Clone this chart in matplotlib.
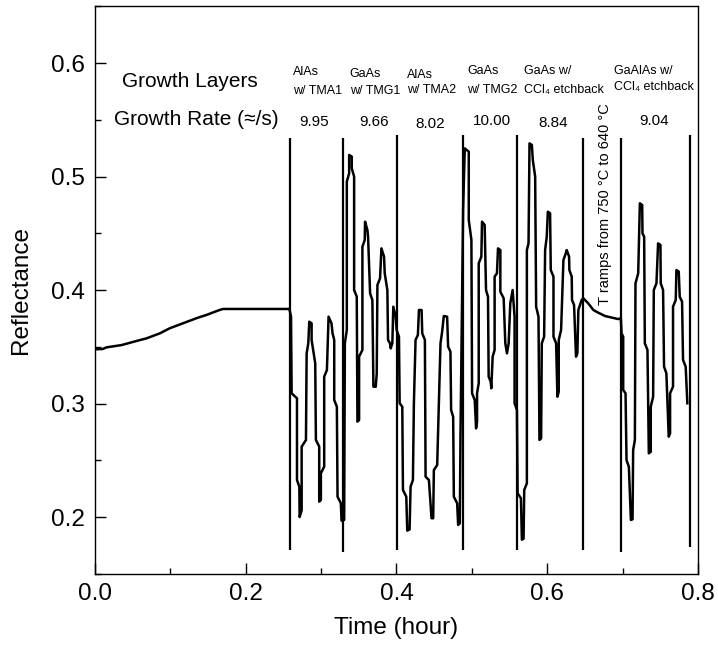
import matplotlib
matplotlib.use('Agg')
import matplotlib.pyplot as plt
from matplotlib.ticker import MultipleLocator

plt.rcParams['font.family'] = ['Liberation Sans', 'DejaVu Sans']

# substrate heat-up before growth
ramp_t = [0.0, 0.0100, 0.0155, 0.0353, 0.0551, 0.0683, 0.086, 0.0992, 0.1168,
          0.1344, 0.1477, 0.1653, 0.1697, 0.2579]
ramp_r = [0.3478, 0.3480, 0.3495, 0.3515, 0.3551, 0.3574, 0.3618, 0.3663, 0.3707,
          0.3751, 0.378, 0.3824, 0.3833, 0.3833]

# reflectance trace during growth
time_h = [0.2579, 0.2601, 0.2609, 0.2680, 0.2680, 0.2711, 0.2715, 0.2742, 0.2742, 0.2799,
          0.2808, 0.2830, 0.2843, 0.2874, 0.2874, 0.2922, 0.2931, 0.2975, 0.2975, 0.2997,
          0.2997, 0.3041, 0.3041, 0.3077, 0.3099, 0.3138, 0.3152, 0.3174, 0.3174, 0.3209,
          0.3218, 0.3262, 0.3271, 0.3306, 0.3315, 0.3341, 0.3341, 0.3372, 0.3372, 0.3407,
          0.3407, 0.3438, 0.3438, 0.3473, 0.3482, 0.3504, 0.3504, 0.3548, 0.3548, 0.3579,
          0.3583, 0.3614, 0.3623, 0.3650, 0.3680, 0.3694, 0.3725, 0.3738, 0.3747, 0.3782,
          0.3800, 0.3835, 0.3844, 0.3879, 0.3888, 0.3914, 0.3923, 0.3945, 0.3958, 0.3989,
          0.4002, 0.4033, 0.4042, 0.4077, 0.4086, 0.4130, 0.4143, 0.4174, 0.4187, 0.4218,
          0.4231, 0.4253, 0.4284, 0.4298, 0.4333, 0.4342, 0.4377, 0.4386, 0.4430, 0.4465,
          0.4487, 0.4496, 0.4540, 0.4584, 0.4606, 0.4628, 0.4672, 0.4685, 0.4716, 0.4725,
          0.4752, 0.4761, 0.4805, 0.4818, 0.4840, 0.4849, 0.4884, 0.4906, 0.4959, 0.4959,
          0.4994, 0.5003, 0.5038, 0.5056, 0.5069, 0.5069, 0.5091, 0.5091, 0.5126, 0.5135,
          0.5170, 0.5188, 0.5214, 0.5223, 0.5250, 0.5258, 0.5276, 0.5302, 0.5302, 0.5333,
          0.5347, 0.5378, 0.5378, 0.5422, 0.5444, 0.5466, 0.5488, 0.5510, 0.5541, 0.5567,
          0.5567, 0.5598, 0.5607, 0.5651, 0.5664, 0.5686, 0.5695, 0.5730, 0.5730, 0.5752,
          0.5765, 0.5796, 0.5809, 0.5840, 0.5853, 0.5884, 0.5897, 0.5919, 0.5928, 0.5959,
          0.5972, 0.5994, 0.6008, 0.6038, 0.6047, 0.6083, 0.6083, 0.6118, 0.6135, 0.6153,
          0.6153, 0.6184, 0.6215, 0.6246, 0.6259, 0.6290, 0.6294, 0.6325, 0.6329, 0.6356,
          0.6382, 0.6400, 0.6413, 0.6457, 0.6479, 0.6545, 0.6612, 0.6678, 0.6766, 0.6942,
          0.6977, 0.6986, 0.7008, 0.7008, 0.7039, 0.7052, 0.7083, 0.7110, 0.7132, 0.7140,
          0.7163, 0.7171, 0.7207, 0.7229, 0.7260, 0.7264, 0.7286, 0.7295, 0.7330, 0.7348,
          0.7374, 0.7374, 0.7405, 0.7414, 0.7449, 0.7471, 0.7502, 0.7506, 0.7537, 0.7550,
          0.7581, 0.7612, 0.7630, 0.7630, 0.7669, 0.7669, 0.7705, 0.7714, 0.7745, 0.7758,
          0.7789, 0.7802, 0.7837, 0.7859]
refl = [0.3833, 0.3765, 0.3090, 0.3046, 0.2326, 0.2267, 0.2000, 0.2060, 0.2620, 0.2678,
        0.3442, 0.3530, 0.3721, 0.3706, 0.3560, 0.3354, 0.2679, 0.2620, 0.2135, 0.2150,
        0.2385, 0.2444, 0.3237, 0.3295, 0.3765, 0.3706, 0.3618, 0.3560, 0.3031, 0.2972,
        0.2179, 0.2121, 0.1968, 0.1974, 0.3530, 0.3648, 0.4955, 0.5028, 0.5190, 0.5175,
        0.5072, 0.4999, 0.4000, 0.3941, 0.2840, 0.2855, 0.3413, 0.3472, 0.4382, 0.4441,
        0.4602, 0.4529, 0.4470, 0.3971, 0.3912, 0.3148, 0.3148, 0.3266, 0.4044, 0.4103,
        0.4367, 0.4294, 0.4147, 0.4000, 0.3560, 0.3530, 0.3486, 0.3530, 0.3853, 0.3765,
        0.3648, 0.3589, 0.3002, 0.2972, 0.2238, 0.2179, 0.1880, 0.1890, 0.2267, 0.2326,
        0.3002, 0.3560, 0.3604, 0.3824, 0.3824, 0.3618, 0.3560, 0.2355, 0.2326, 0.1989,
        0.1989, 0.2414, 0.2458, 0.3530, 0.3633, 0.3771, 0.3765, 0.3501, 0.3457, 0.2943,
        0.2884, 0.2179, 0.2121, 0.1930, 0.1944, 0.2708, 0.4705, 0.5248, 0.5219, 0.4617,
        0.4441, 0.3090, 0.3031, 0.2781, 0.2840, 0.3090, 0.3178, 0.4235, 0.4294, 0.4602,
        0.4573, 0.4000, 0.3941, 0.3237, 0.3192, 0.3134, 0.3413, 0.3472, 0.4118, 0.4147,
        0.4367, 0.4352, 0.3985, 0.3927, 0.3530, 0.3442, 0.3530, 0.3883, 0.4000, 0.3765,
        0.3002, 0.2943, 0.2209, 0.2165, 0.1800, 0.1810, 0.2238, 0.2297, 0.4352, 0.4411,
        0.5292, 0.5278, 0.5145, 0.4999, 0.3853, 0.3765, 0.2679, 0.2693, 0.3530, 0.3589,
        0.4352, 0.4470, 0.4690, 0.4676, 0.4176, 0.4118, 0.3589, 0.3530, 0.3060, 0.3104,
        0.3560, 0.3648, 0.4264, 0.4323, 0.4352, 0.4294, 0.4176, 0.4118, 0.3912, 0.3868,
        0.3413, 0.3442, 0.3824, 0.3912, 0.3927, 0.3882, 0.3824, 0.3800, 0.3771, 0.3744,
        0.3751, 0.3618, 0.3589, 0.3119, 0.3090, 0.2502, 0.2443, 0.1974, 0.1980, 0.2590,
        0.2679, 0.4059, 0.4147, 0.4764, 0.4749, 0.4499, 0.4470, 0.3530, 0.3472, 0.2561,
        0.2575, 0.2972, 0.3060, 0.4000, 0.4059, 0.4411, 0.4397, 0.4059, 0.4000, 0.3325,
        0.3266, 0.2708, 0.2737, 0.3090, 0.3149, 0.3853, 0.3912, 0.4176, 0.4162, 0.3941,
        0.3897, 0.3384, 0.3325, 0.3002]

# layer boundary markers
bound_t = [0.2583, 0.3297, 0.4002, 0.4884, 0.5594, 0.6471, 0.6975, 0.7890]
bound_top = [0.534, 0.534, 0.537, 0.537, 0.537, 0.534, 0.534, 0.537]
bound_bot = [0.171, 0.169, 0.171, 0.171, 0.171, 0.171, 0.169, 0.174]

# annotations
layer_top = ['AlAs', 'GaAs', 'AlAs', 'GaAs', 'GaAs w/', 'GaAlAs w/']
layer_bot = ['w/ TMA1', 'w/ TMG1', 'w/ TMA2', 'w/ TMG2', 'CCl₄ etchback', 'CCl₄ etchback']
layer_x = [0.263, 0.338, 0.414, 0.4936, 0.5686, 0.6889]
layer_y1 = [0.5923, 0.5903, 0.5894, 0.5932, 0.5932, 0.5932]
layer_y2 = [0.5756, 0.5756, 0.5762, 0.5762, 0.5762, 0.5791]
rates = ['9.95', '9.66', '8.02', '10.00', '8.84', '9.04']
rate_x = [0.2909, 0.3702, 0.4452, 0.5267, 0.6083, 0.7414]
rate_y = [0.5483, 0.5483, 0.5463, 0.5492, 0.5469, 0.5492]

fig = plt.figure(figsize=(7.18, 6.47), dpi=100)
ax = fig.add_axes([0.1323, 0.1132, 0.8398, 0.8771])

ax.plot(ramp_t, ramp_r, color='black', lw=1.8)
ax.plot(time_h, refl, color='black', lw=1.8)
ax.vlines(bound_t, bound_bot, bound_top, color='black', lw=1.6)

for i in range(len(layer_top)):
    ax.text(layer_x[i], layer_y1[i], layer_top[i], fontsize=9, ha='left', va='center')
    ax.text(layer_x[i], layer_y2[i], layer_bot[i], fontsize=9, ha='left', va='center')
    ax.text(rate_x[i], rate_y[i], rates[i], fontsize=11, ha='center', va='center')

ax.text(0.0353, 0.5835, 'Growth Layers', fontsize=15, ha='left', va='center')
ax.text(0.0251, 0.5498, 'Growth Rate (≈/s)', fontsize=15, ha='left', va='center')
ax.text(0.6766, 0.3868, 'T ramps from 750 °C to 640 °C', fontsize=10.5,
        rotation=90, ha='center', va='bottom')

ax.set_xlim(0, 0.8)
ax.set_ylim(0.15, 0.65)
ax.xaxis.set_major_locator(MultipleLocator(0.2))
ax.xaxis.set_minor_locator(MultipleLocator(0.1))
ax.yaxis.set_major_locator(MultipleLocator(0.1))
ax.yaxis.set_minor_locator(MultipleLocator(0.05))
ax.tick_params(which='both', direction='in', top=False, right=False, width=1)
ax.tick_params(which='major', length=8, labelsize=17.5, pad=7)
ax.tick_params(which='minor', length=4)
for s in ax.spines.values():
    s.set_linewidth(1)

ax.set_xlabel('Time (hour)', fontsize=17.5, labelpad=8)
ax.set_ylabel('Reflectance', fontsize=17.5, labelpad=14)

fig.savefig('out.png', dpi=100)
